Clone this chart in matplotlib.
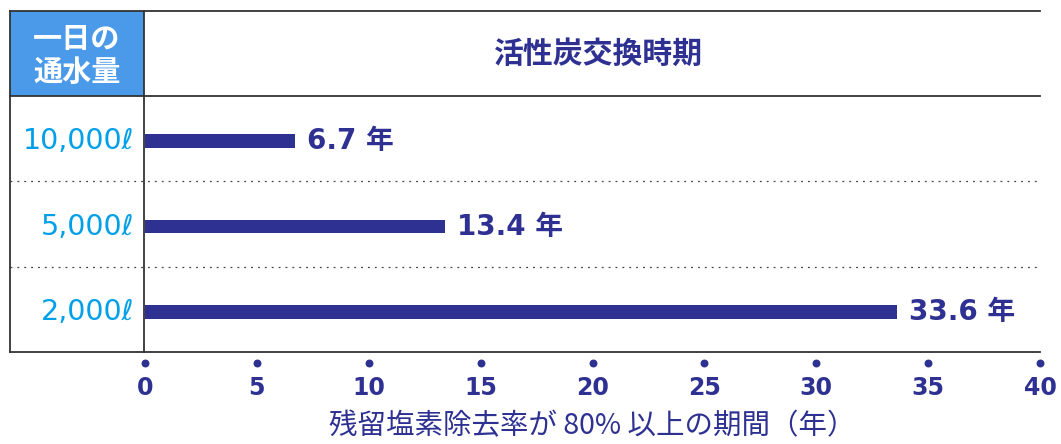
import numpy as np
import matplotlib.pyplot as plt
from matplotlib.patches import Rectangle
from matplotlib.lines import Line2D
from matplotlib.transforms import blended_transform_factory

plt.rcParams['font.family'] = ['Noto Sans CJK JP', 'DejaVu Sans']
num_font = ['DejaVu Sans', 'Noto Sans CJK JP']

categories = ['10,000ℓ', '5,000ℓ', '2,000ℓ']
years = [6.7, 13.4, 33.6]
value_labels = ['6.7 年', '13.4 年', '33.6 年']
xticks = [0, 5, 10, 15, 20, 25, 30, 35, 40]

navy = '#2E3192'
cyan = '#00A0E9'
W, H = 1061, 444

fig = plt.figure(figsize=(W / 100, H / 100), dpi=100)


def fx(px):
    return px / W


def fy(py):
    return 1 - py / H


ax = fig.add_axes([fx(145), fy(352), fx(1040) - fx(145), fy(96) - fy(352)])
ax.set_xlim(0, 40)
ax.set_ylim(2.47, -0.53)
for s in ax.spines.values():
    s.set_visible(False)
ax.set_yticks([])

ypos = np.arange(len(categories))
ax.barh(ypos, years, height=0.16, color=navy, zorder=3)
for y, v, lab in zip(ypos, years, value_labels):
    ax.annotate(lab, (v, y), xytext=(9, 0), textcoords='offset points',
                va='center', ha='left', fontsize=20, fontweight='bold', color=navy,
                family=num_font)

# x ticks as dots + labels
ax.set_xticks(xticks)
ax.set_xticklabels([str(t) for t in xticks], fontsize=17, fontweight='bold', color=navy,
                   family=num_font)
ax.tick_params(axis='x', length=0, pad=17)
trans = blended_transform_factory(ax.transData, ax.transAxes)
ax.scatter(xticks, [-11 / 256] * len(xticks), s=22, color=navy, transform=trans, clip_on=False, zorder=4)
ax.set_xlabel('残留塩素除去率が 80% 以上の期間（年）', fontsize=20.5, color=navy, labelpad=8)

# table frame
fig.patches.append(Rectangle((fx(10), fy(96)), fx(144) - fx(10), fy(11) - fy(96),
                             transform=fig.transFigure, facecolor='#4A9AE9', edgecolor='none', zorder=0))
lc = '#333333'
for x0, x1, y0, y1 in [(10, 1040, 11, 11), (10, 1040, 96, 96), (10, 1040, 352, 352),
                       (10, 10, 11, 352), (144, 144, 11, 352)]:
    fig.lines.append(Line2D([fx(x0), fx(x1)], [fy(y0), fy(y1)], transform=fig.transFigure,
                            color=lc, lw=1.3, zorder=5))
for yy in [181, 267]:
    fig.lines.append(Line2D([fx(10), fx(1040)], [fy(yy), fy(yy)], transform=fig.transFigure,
                            color='#444444', lw=0.9, linestyle=(0, (1.5, 4)), zorder=5))

fig.text(fx(77), fy(55), '一日の\n通水量', ha='center', va='center', fontsize=21,
         fontweight='bold', color='white', linespacing=1.12)
fig.text(fx(599), fy(54), '活性炭交換時期', ha='center', va='center', fontsize=21.5,
         fontweight='bold', color=navy)

for y, cat in zip(ypos, categories):
    ax.text(-0.5, y, cat, ha='right', va='center', fontsize=20.5, color=cyan, family=num_font)

fig.savefig('out.png', dpi=100)
